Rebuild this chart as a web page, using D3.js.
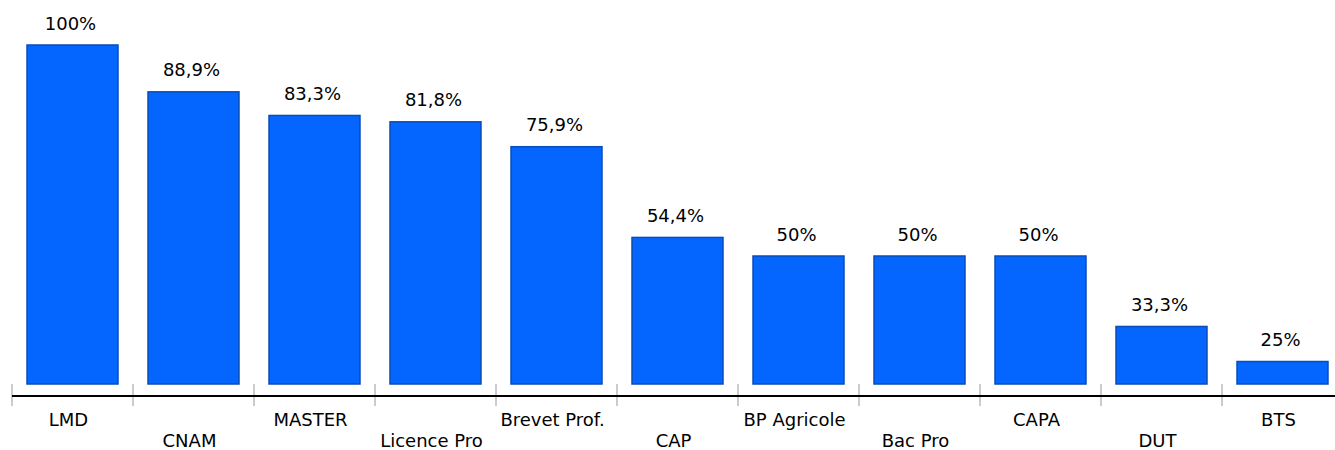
<!DOCTYPE html>
<html>
<head>
<meta charset="utf-8">
<script src="https://cdn.jsdelivr.net/npm/d3@7"></script>
<style>
  body { margin: 0; background: #fff; }
  text { font-family: "DejaVu Sans", sans-serif; }
</style>
</head>
<body>
<div id="chart"></div>
<script>
// diplomas and their rates (%)
var categories = ["LMD", "CNAM", "MASTER", "Licence Pro", "Brevet Prof.", "CAP", "BP Agricole", "Bac Pro", "CAPA", "DUT", "BTS"];
var values = [100, 88.9, 83.3, 81.8, 75.9, 54.4, 50, 50, 50, 33.3, 25];
var valueLabels = ["100%", "88,9%", "83,3%", "81,8%", "75,9%", "54,4%", "50%", "50%", "50%", "33,3%", "25%"];

var w = 1335, h = 450;
var svg = d3.select("#chart").append("svg")
    .attr("width", w)
    .attr("height", h);

var x = d3.scaleBand()
    .domain(categories)
    .range([12, 1343])
    .paddingInner(0.248)
    .paddingOuter(0.124);

// axis does not start at zero in the original
var y = d3.scaleLinear()
    .domain([19.67, 100])
    .range([384, 45]);

// tick marks between bands
var tickX = categories.map(function(c) { return x(c) - x.step() * x.paddingOuter(); });
svg.selectAll("line.tick")
    .data(tickX)
    .enter()
    .append("line")
    .attr("class", "tick")
    .attr("x1", function(d) { return d; })
    .attr("x2", function(d) { return d; })
    .attr("y1", 384)
    .attr("y2", 406)
    .style("stroke", "#cccccc")
    .style("stroke-width", 2);

svg.append("line")
    .attr("x1", 12).attr("x2", w)
    .attr("y1", 396).attr("y2", 396)
    .style("stroke", "#000")
    .style("stroke-width", 2);

svg.selectAll("rect.bar")
    .data(values)
    .enter()
    .append("rect")
    .attr("class", "bar")
    .attr("x", function(d, i) { return x(categories[i]); })
    .attr("y", function(d) { return y(d); })
    .attr("width", x.bandwidth())
    .attr("height", function(d) { return y.range()[0] - y(d); })
    .attr("fill", "#0566ff")
    .attr("stroke", "#0a4cb8")
    .attr("stroke-width", 1.5);

svg.selectAll("text.val")
    .data(values)
    .enter()
    .append("text")
    .attr("class", "val")
    .attr("x", function(d, i) { return x(categories[i]) + x.bandwidth() / 2 - 2; })
    .attr("y", function(d) { return y(d) - 15.5; })
    .attr("text-anchor", "middle")
    .style("font-size", "18px")
    .style("fill", "#000")
    .text(function(d, i) { return valueLabels[i]; });

svg.selectAll("text.cat")
    .data(categories)
    .enter()
    .append("text")
    .attr("class", "cat")
    .attr("x", function(d) { return x(d) + x.bandwidth() / 2 - 4; })
    .attr("y", function(d, i) { return i % 2 == 0 ? 426 : 447; })
    .attr("text-anchor", "middle")
    .style("font-size", "18px")
    .style("fill", "#000")
    .text(function(d) { return d; });
</script>
</body>
</html>
